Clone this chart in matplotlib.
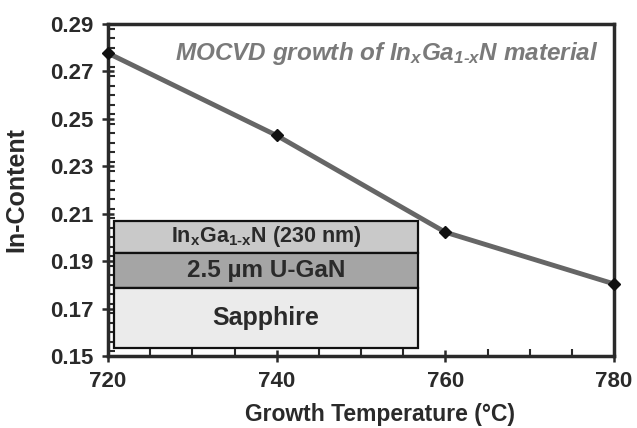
import matplotlib
matplotlib.use("Agg")
import matplotlib.pyplot as plt
from matplotlib.patches import Rectangle
from matplotlib.ticker import MultipleLocator

plt.rcParams['font.family'] = ['Liberation Sans', 'DejaVu Sans']
plt.rcParams['mathtext.default'] = 'regular'

# Indium content vs. growth temperature
temperature = [720, 740, 760, 780]
in_content = [0.2777, 0.2430, 0.2022, 0.1804]

x_ticks = [720, 740, 760, 780]
y_ticks = [0.15, 0.17, 0.19, 0.21, 0.23, 0.25, 0.27, 0.29]

# Short hyphen in the subscript rather than a math minus
formula = "In$_x$Ga$_{1\u2010x}$N"

# Layer stack (top to bottom): label, fill colour, font size
layers = [
    (formula + " (230 nm)", "#c9c9c9", 15.5),
    ("2.5 µm U-GaN", "#a5a5a5", 17.5),
    ("Sapphire", "#ebebeb", 18),
]

dark = "#2a2a2a"

fig = plt.figure(figsize=(6.37, 4.28), dpi=100)
ax = fig.add_axes([108 / 637, 1 - 356 / 428, 506 / 637, 332 / 428])

ax.plot(temperature, in_content, color="#666666", lw=3.5, zorder=3,
        marker="D", markersize=6.5, markerfacecolor="#111111",
        markeredgecolor="#111111", clip_on=False)

ax.set_xlim(720, 780)
ax.set_ylim(0.15, 0.29)
ax.set_xticks(x_ticks)
ax.set_yticks(y_ticks)
ax.set_yticklabels([f"{v:.2f}" for v in y_ticks])
ax.xaxis.set_minor_locator(MultipleLocator(5))
ax.yaxis.set_minor_locator(MultipleLocator(0.004))

for s in ax.spines.values():
    s.set_linewidth(2.5)
    s.set_color(dark)

ax.tick_params(axis="both", which="major", direction="inout", length=9,
               width=1.8, color=dark, labelsize=16, pad=6)
ax.tick_params(axis="both", which="minor", direction="in", length=5,
               width=1.5, color=dark)
for lab in ax.get_xticklabels() + ax.get_yticklabels():
    lab.set_fontweight("bold")
    lab.set_color(dark)

ax.set_xlabel("Growth Temperature (°C)", fontsize=16.5, fontweight="bold",
              color=dark)
ax.set_ylabel("In-Content", fontsize=18, fontweight="bold", color=dark)
ax.xaxis.set_label_coords(0.538, -0.142)
ax.yaxis.set_label_coords(-0.158, 0.5)

ax.text(0.969, 0.912, "MOCVD growth of " + formula + " material",
        transform=ax.transAxes, ha="right", va="center", fontsize=17.5,
        fontweight="bold", fontstyle="italic", color="#7a7a7a")

# Layer-structure schematic in axes coordinates
box_left, box_right = 0.012, 0.613
edges = [0.4075, 0.311, 0.2057, 0.023]
for i, (label, color, size) in enumerate(layers):
    top, bottom = edges[i], edges[i + 1]
    ax.add_patch(Rectangle((box_left, bottom), box_right - box_left, top - bottom,
                           transform=ax.transAxes, facecolor=color,
                           edgecolor="#111111", lw=1.6, zorder=4))
    ax.text((box_left + box_right) / 2, (top + bottom) / 2, label,
            transform=ax.transAxes, ha="center", va="center",
            fontsize=size, fontweight="bold", color=dark, zorder=5)

fig.savefig("out.png", dpi=100, facecolor="white")
